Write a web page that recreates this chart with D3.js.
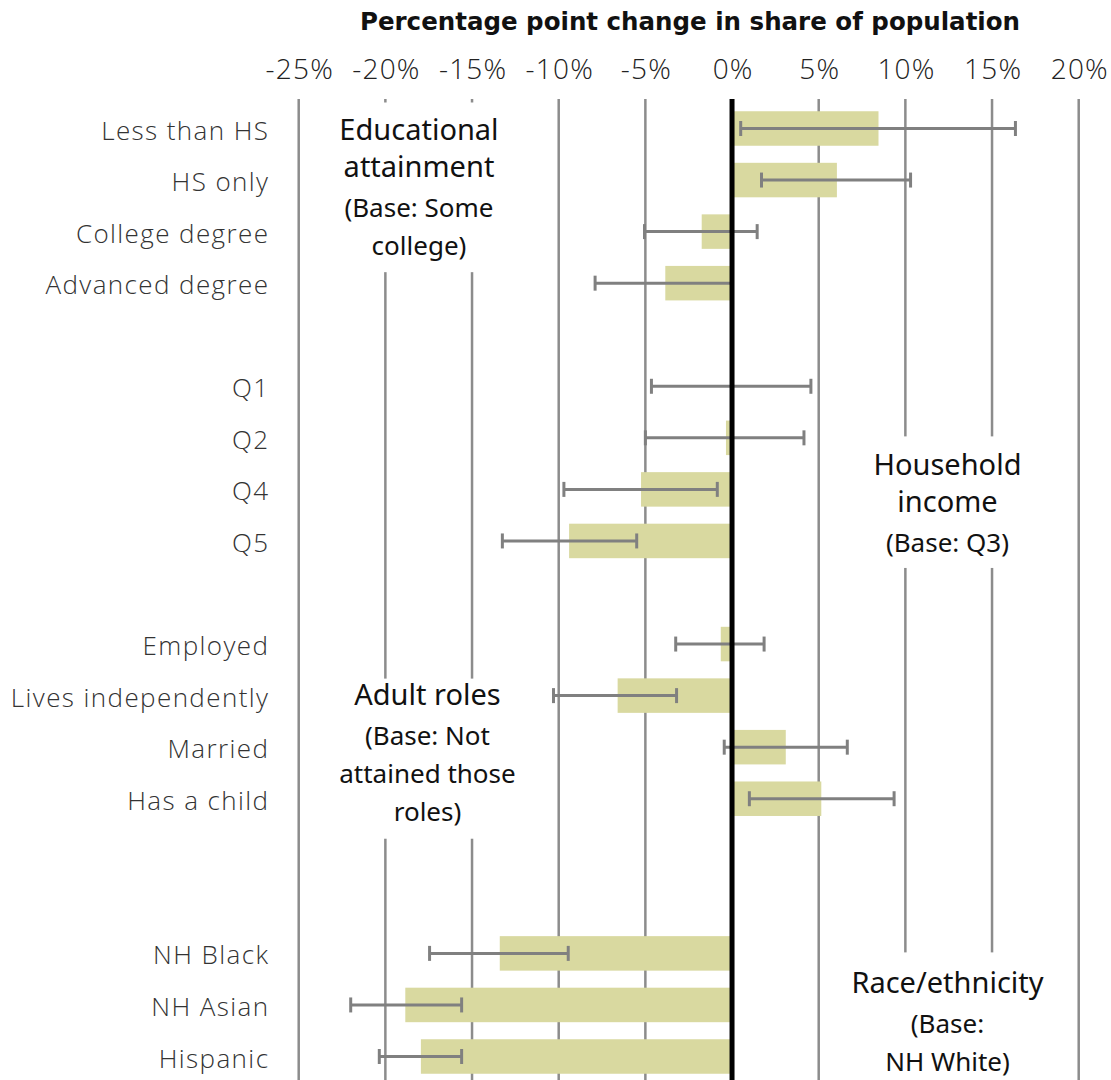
<!DOCTYPE html>
<html lang="en">
	<head>
		<meta charset="utf-8">
		<title>percentage point change</title>
		<script type="text/javascript" src="https://cdn.jsdelivr.net/npm/d3@7"></script>
		<style type="text/css">
			body { margin: 0; background: #fff; }
			svg { display: block; }
		</style>
	</head>
	<body>
		<script type="text/javascript">

// values (percentage points)
var labels = ["Less than HS", "HS only", "College degree", "Advanced degree",
              "Q1", "Q2", "Q4", "Q5",
              "Employed", "Lives independently", "Married", "Has a child",
              "NH Black", "NH Asian", "Hispanic"]
var rowSlot = [0, 1, 2, 3, 5, 6, 7, 8, 10, 11, 12, 13, 16, 17, 18]
var estimate = [8.45, 6.05, -1.75, -3.85, 0, -0.35, -5.25, -9.4, -0.65, -6.6, 3.1, 5.15, -13.4, -18.85, -17.95]
var ciLow = [0.5, 1.7, -5.05, -7.9, -4.65, -5.0, -9.7, -13.25, -3.25, -10.3, -0.45, 1.0, -17.45, -22.0, -20.35]
var ciHigh = [16.35, 10.3, 1.45, 0, 4.55, 4.15, -0.85, -5.5, 1.85, -3.2, 6.65, 9.35, -9.45, -15.6, -15.6]
var ticks = [-25, -20, -15, -10, -5, 0, 5, 10, 15, 20]

var notes = [
	{title: ["Educational", "attainment"], base: ["(Base: Some", "college)"]},
	{title: ["Household", "income"], base: ["(Base: Q3)"]},
	{title: ["Adult roles"], base: ["(Base: Not", "attained those", "roles)"]},
	{title: ["Race/ethnicity"], base: ["(Base:", "NH White)"]}
]

var w = 1111
var h = 1080
var svg = d3.select("body").append("svg")
	.attr("width", w)
	.attr("height", h)

var x = d3.scaleLinear().domain([-25, 20]).range([298.7, 1078.7])
var y = d3.scalePoint().domain(d3.range(19)).range([128.5, 1056.5])
var bh = 34.5
var gridTop = 99

svg.append("text")
	.text("Percentage point change in share of population")
	.attr("x", 690).attr("y", 30)
	.attr("text-anchor", "middle")
	.attr("font-family", "'DejaVu Sans', sans-serif")
	.attr("font-weight", "bold")
	.attr("font-size", "24.5px")
	.attr("fill", "#111")

// axis labels on top
var xAxis = d3.axisTop(x).tickValues(ticks).tickSize(0).tickFormat(function(d){ return d + "%" })
var ax = svg.append("g").attr("transform", "translate(0.6,82)").call(xAxis)
ax.select(".domain").remove()
ax.selectAll("text")
	.attr("font-family", "'Open Sans', sans-serif")
	.attr("font-weight", 300)
	.attr("font-size", "28px")
	.attr("letter-spacing", "1.2px")
	.attr("fill", "#222")

// grid
svg.selectAll(".grid")
	.data(ticks.filter(function(d){ return d != 0 }))
	.enter().append("line")
	.attr("class", "grid")
	.attr("x1", function(d){ return x(d) })
	.attr("x2", function(d){ return x(d) })
	.attr("y1", gridTop).attr("y2", h)
	.attr("stroke", "#8c8c8c")
	.attr("stroke-width", 2.5)

// white boxes behind the group notes
var boxes = [
	[x(-24), y(0) - 26, x(-12), y(3) - 11],
	[x(7), y(7) - 53, x(18), y(8) + 27],
	[x(-24), y(11) - 17, x(-12), y(13) + 40],
	[x(7), y(16) - 1, x(18), h]
]
svg.selectAll(".box")
	.data(boxes)
	.enter().append("rect")
	.attr("x", function(d){ return d[0] })
	.attr("y", function(d){ return d[1] })
	.attr("width", function(d){ return d[2] - d[0] })
	.attr("height", function(d){ return d[3] - d[1] })
	.attr("fill", "#fff")

var idx = d3.range(labels.length)

svg.selectAll(".bar")
	.data(idx)
	.enter().append("rect")
	.attr("class", "bar")
	.attr("x", function(i){ return x(Math.min(0, estimate[i])) })
	.attr("width", function(i){ return Math.abs(x(estimate[i]) - x(0)) })
	.attr("y", function(i){ return y(rowSlot[i]) - bh / 2 })
	.attr("height", bh)
	.attr("fill", "#d9d9a0")

// error bars
var eb = svg.selectAll(".err").data(idx).enter().append("g").attr("class", "err")
	.attr("stroke", "#808080").attr("stroke-width", 3)
eb.append("line")
	.attr("x1", function(i){ return x(ciLow[i]) })
	.attr("x2", function(i){ return x(ciHigh[i]) })
	.attr("y1", function(i){ return y(rowSlot[i]) })
	.attr("y2", function(i){ return y(rowSlot[i]) })
eb.selectAll(".cap")
	.data(function(i){ return [[ciLow[i], rowSlot[i]], [ciHigh[i], rowSlot[i]]] })
	.enter().append("line")
	.attr("x1", function(d){ return x(d[0]) })
	.attr("x2", function(d){ return x(d[0]) })
	.attr("y1", function(d){ return y(d[1]) - 7.5 })
	.attr("y2", function(d){ return y(d[1]) + 7.5 })

// zero line
svg.append("line")
	.attr("x1", x(0)).attr("x2", x(0))
	.attr("y1", gridTop).attr("y2", h)
	.attr("stroke", "#000")
	.attr("stroke-width", 5)

// row labels
svg.selectAll(".label")
	.data(idx)
	.enter().append("text")
	.attr("class", "label")
	.text(function(i){ return labels[i] })
	.attr("x", 269.4)
	.attr("y", function(i){ return y(rowSlot[i]) + 11 })
	.attr("text-anchor", "end")
	.attr("font-family", "'Open Sans', sans-serif")
	.attr("font-weight", 300)
	.attr("font-size", "26px")
	.attr("letter-spacing", "1.4px")
	.attr("fill", "#333")

// group notes: centre x and first baseline
var notePos = [
	[x(-18.06), y(0) + 11.5],
	[x(12.43), y(7) - 14.4],
	[x(-17.57), y(11) + 9.3],
	[x(12.43), y(16) + 39.6]
]
notes.forEach(function(n, k){
	var t = svg.append("text")
		.attr("text-anchor", "middle")
		.attr("font-family", "'Noto Sans', sans-serif")
		.attr("fill", "#111")
	var yy = notePos[k][1]
	n.title.forEach(function(s, j){
		t.append("tspan").text(s)
			.attr("x", notePos[k][0]).attr("y", yy)
			.attr("font-size", "29px")
		yy += 37
	})
	yy += 3
	n.base.forEach(function(s, j){
		t.append("tspan").text(s)
			.attr("x", notePos[k][0]).attr("y", yy)
			.attr("font-size", "26px")
		yy += 38
	})
})

		</script>
	</body>
</html>
